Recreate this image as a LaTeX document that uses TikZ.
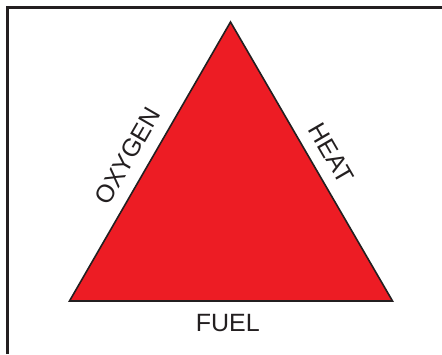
\documentclass[tikz,border=0pt]{standalone}
\usepackage{fontspec}
\setmainfont{Liberation Sans}
\definecolor{firered}{HTML}{ED1C24}
\definecolor{inkdark}{HTML}{231F20}
\begin{document}
\begin{tikzpicture}[x=1pt,y=1pt,
  frameline/.style={draw=inkdark,line width=2.6pt},
  tri/.style={draw=inkdark,fill=firered,line width=1.6pt,line join=miter},
  lbl/.style={font=\fontsize{25}{30}\selectfont,text=inkdark,inner sep=0pt}]
\useasboundingbox (0,0) rectangle (442,354);
\coordinate (fb) at (7.5,0);
\coordinate (fc) at (7.5,346.5);
\coordinate (fr) at (442,346.5);
\draw[frameline] (fb) -- (fc) -- (fr);
\coordinate (A) at (230.5,332);
\coordinate (B) at (69.5,53);
\coordinate (C) at (392.5,53);
\draw[tri] (A) -- (B) -- (C) -- cycle;
\path (B) -- (A) node[lbl,sloped,pos=0.48,above=13pt] (oxy) {OXYGEN};
\path (A) -- (C) node[lbl,sloped,pos=0.51,above=12.5pt] (heat) {HEAT};
\path (B) -- (C) node[lbl,pos=0.49,below=13pt] (fuel) {FUEL};
\end{tikzpicture}
\end{document}
